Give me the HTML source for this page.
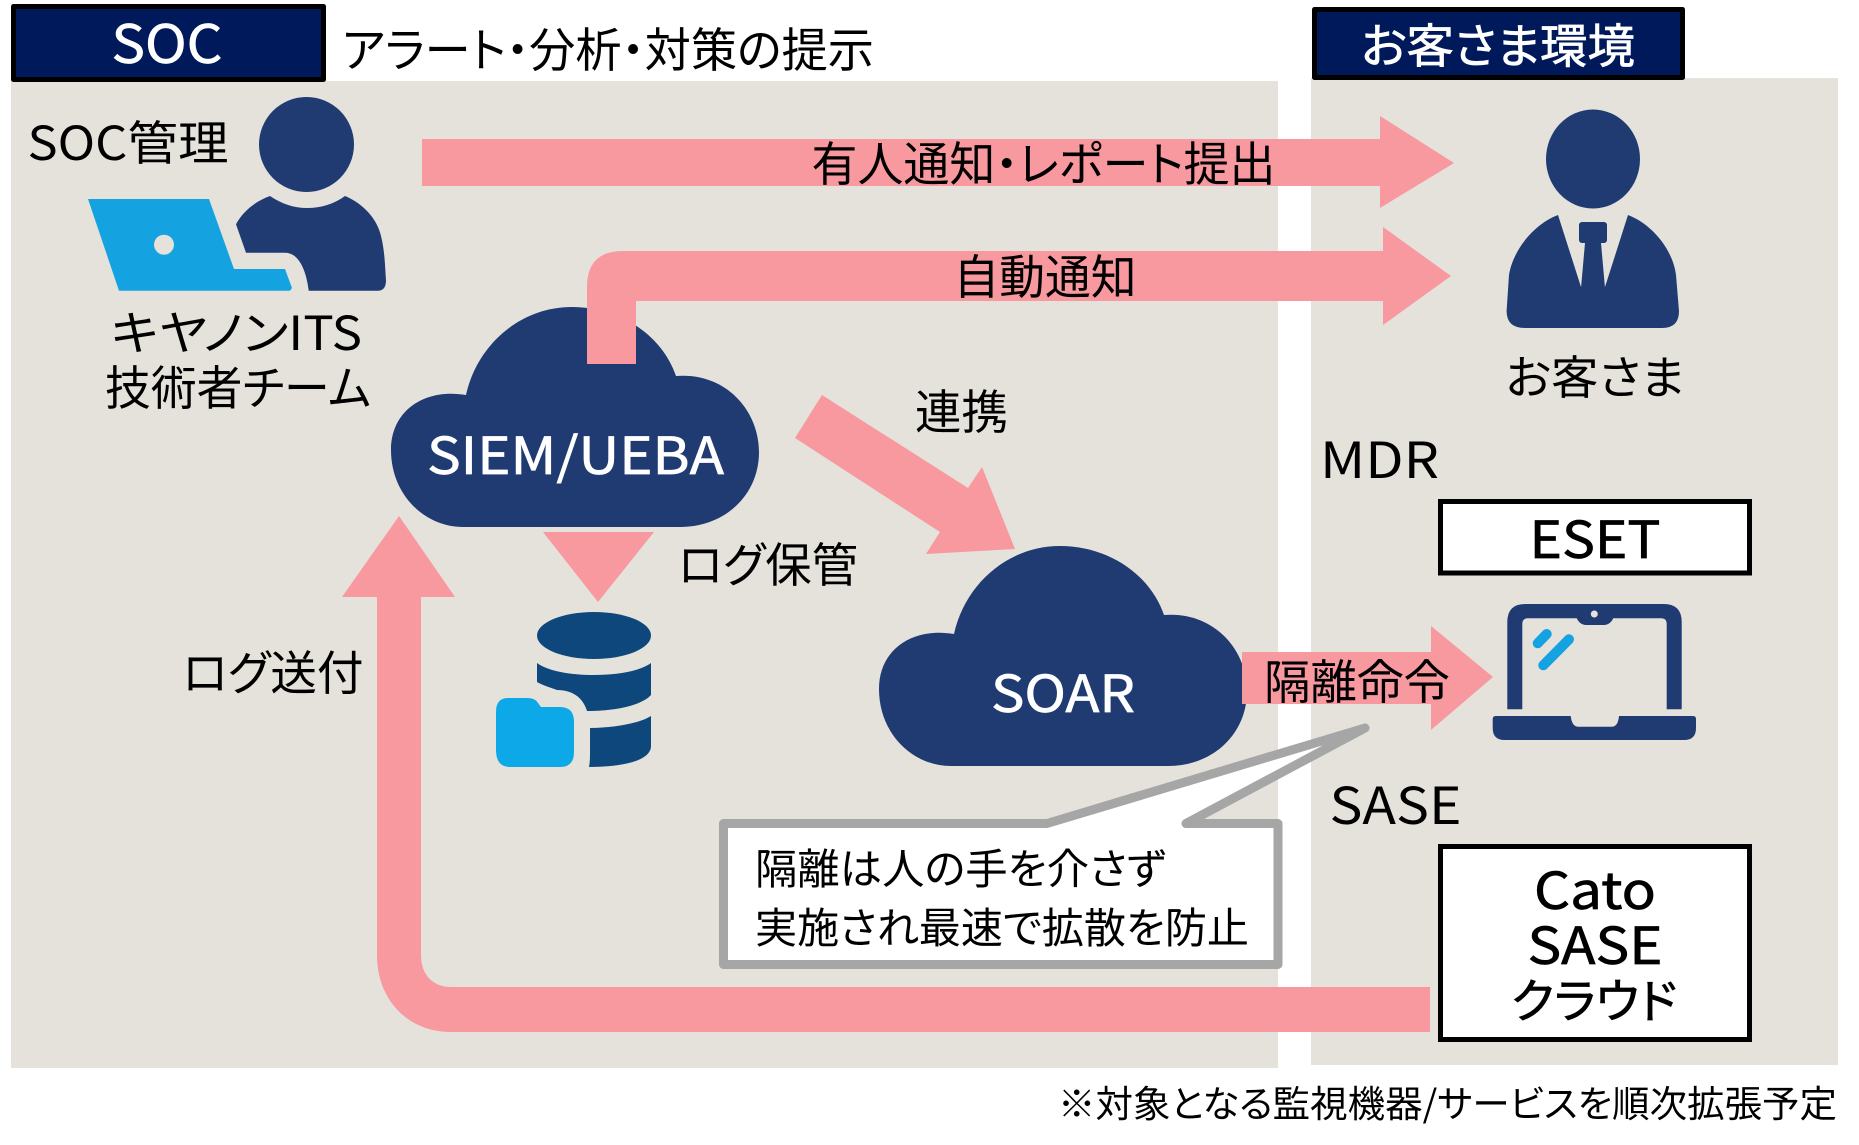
<!DOCTYPE html>
<html lang="ja"><head><meta charset="utf-8"><title>SOC diagram</title>
<style>
html,body{margin:0;padding:0;background:#fff;width:1859px;height:1145px;overflow:hidden}
svg{display:block}
text{font-family:"Noto Sans CJK JP","Liberation Sans",sans-serif;fill:#000;font-feature-settings:"palt"}
.mw{fill:#fff;stroke:#fff;stroke-width:.7px}
.mb{stroke:#000;stroke-width:.7px}
</style></head><body>
<svg width="1859" height="1145" viewBox="0 0 1859 1145" xmlns="http://www.w3.org/2000/svg">
<rect width="1859" height="1145" fill="#fff"/>
<!-- panels -->
<rect x="11" y="81" width="1267" height="987" fill="#E4E2DA"/>
<rect x="1311" y="78" width="527" height="987" fill="#E4E2DA"/>
<!-- headers -->
<rect x="13.500" y="6.500" width="310" height="73" fill="#00195A" stroke="#000" stroke-width="5" stroke-linejoin="round"/>
<rect x="1314.500" y="9.500" width="368" height="68" fill="#00195A" stroke="#000" stroke-width="5" stroke-linejoin="round"/>
<text class="mw" x="111.500" y="63" font-size="53" textLength="111" lengthAdjust="spacingAndGlyphs">SOC</text>
<text class="mw" x="1361" y="63" font-size="47" textLength="274" lengthAdjust="spacingAndGlyphs">お客さま環境</text>
<text x="342" y="67" font-size="47" textLength="532" lengthAdjust="spacingAndGlyphs">アラート・分析・対策の提示</text>

<!-- person SOC -->
<g fill="#203A72">
<ellipse cx="306.500" cy="144.500" rx="47.500" ry="47.500"/>
<path d="M270,196 C282,204 294,208 307,208 C321,208 334,204 345,196 C362,203 377,218 381,236 C385,252 385,268 386,280 Q386,290.700 378,290.700 L308.700,290.700 C307,276 301,252.700 285,252.700 L246,252.700 L236,224.300 C243,211 256,201 270,196 Z"/>
</g>
<path d="M88,199 L209,199 L234,269 L285,269 L292,288 L290,290.700 L119,290.700 Z" fill="#14A3E0"/>
<circle cx="164" cy="244.700" r="10" fill="#E4E2DA"/>

<!-- clouds -->
<g fill="#203A72">
<path d="M466,395 C477,345 520,307 572,307 C620,307 662,335 676,376 C725,372 759,410 759,452 C759,495 725,527 680,527 L463,527 C425,527 391,495 391,450 C391,410 425,388 466,395 Z"/>
<path transform="translate(488,239)" d="M466,395 C477,345 520,307 572,307 C620,307 662,335 676,376 C725,372 759,410 759,452 C759,495 725,527 680,527 L463,527 C425,527 391,495 391,450 C391,410 425,388 466,395 Z"/>
</g>

<!-- arrows -->
<g fill="#F8989F">
<path d="M422,139 L1380,139 L1380,116 L1454,163 L1380,208 L1380,186 L422,186 Z"/>
<path d="M587,364 L587,287 Q587,251 623,251 L1383,251 L1383,227 L1451,276 L1383,325 L1383,301 L636,301 L636,364 Z"/>
<path d="M822,395 L968,488 L982,467 L1015,549 L926,554 L940,532 L795,438 Z"/>
<path d="M543,532 L654,532 L598,602 Z"/>
<path d="M399,516 L455,597 L421,597 L421,955 C421,975 433,987 451,987 L1430,987 L1430,1032 L451,1032 C408,1032 377,1000 377,955 L377,597 L342,597 Z"/>
<path d="M1242,652 L1431,652 L1431,626 L1493,677 L1431,730 L1431,704 L1242,704 Z"/>
</g>

<!-- db -->
<g fill="#0D477B">
<ellipse cx="594" cy="635.500" rx="57" ry="23.500"/>
<path d="M537,663 C548,671 570,675 594,675 C618,675 640,671 651,663 L651,695 C643,704 620,711 587,711 C583,698 573,690 557,690 C552,688 544,686 537,682 Z"/>
<path d="M651,716 C640,723 615,728 590,728 L590,755 Q590,762 589,767 C625,767 651,760 651,746 Z"/>
</g>
<path d="M496,712 Q496,698 508,698 L528,698 Q535,698 538,703 L541,707 L560,707 Q574,707 574,722 L574,752 Q574,767 560,767 L510,767 Q496,767 496,750 Z" fill="#0CA8E8"/>

<!-- customer -->
<g fill="#203A72">
<ellipse cx="1593" cy="159" rx="47" ry="49.500"/>
<path d="M1558,215 L1581,287 L1605,287 L1628,215 C1652,224 1673,250 1676,275 L1679,311 Q1679,328 1662,328 L1525,328 Q1506.600,328 1506.600,311 L1509,275 C1513,250 1534,224 1558,215 Z"/>
<rect x="1579" y="222" width="28" height="21" rx="3"/>
<path d="M1585,243 L1601,243 L1605,288 L1581,288 Z"/>
</g>

<!-- device laptop -->
<path d="M1507.300,709.300 L1507.300,622 Q1507.300,604 1525.300,604 L1663.700,604 Q1681.700,604 1681.700,622 L1681.700,709.300 L1666.700,709.300 L1666.700,624 Q1666.700,618.300 1661,618.300 L1613.300,618.300 Q1610,625 1604,625 L1586,625 Q1580,625 1576.700,618.300 L1528,618.300 Q1522.300,618.300 1522.300,624 L1522.300,709.300 Z" fill="#203A72"/>
<circle cx="1594.300" cy="614" r="3.500" fill="#E4E2DA"/>
<path d="M1495.700,716 L1570.700,716 Q1572,726.700 1578,726.700 L1612,726.700 Q1618,726.700 1619,716 L1693,716 Q1696,716 1696,719 L1696,728 Q1696,740 1684,740 L1504.700,740 Q1492.700,740 1492.700,728 L1492.700,719 Q1492.700,716 1495.700,716 Z" fill="#203A72"/>
<g stroke="#14A3E0" stroke-width="10" stroke-linecap="round" fill="none">
<path d="M1537.700,643.300 L1546.700,634"/>
<path d="M1543.300,665.300 L1569,639.300"/>
</g>

<!-- callout -->
<path d="M723.500,823.500 L1047,823.500 L1365,728 L1186,823.500 L1278,823.500 L1278,964.500 L723.500,964.500 Z" fill="#fff" stroke="#A6A6A6" stroke-width="9" stroke-linejoin="round"/>
<text x="755" y="884" font-size="42" textLength="411" lengthAdjust="spacingAndGlyphs">隔離は人の手を介さず</text>
<text x="755" y="943" font-size="42" textLength="494" lengthAdjust="spacingAndGlyphs">実施され最速で拡散を防止</text>

<!-- boxes -->
<rect x="1440.500" y="501.500" width="309" height="71.500" fill="#fff" stroke="#000" stroke-width="5"/>
<rect x="1440.500" y="846.500" width="309" height="193" fill="#fff" stroke="#000" stroke-width="5"/>
<text class="mb" x="1529.500" y="558" font-size="51" textLength="131" lengthAdjust="spacingAndGlyphs">ESET</text>
<text class="mb" x="1534" y="909" font-size="51" textLength="122" lengthAdjust="spacingAndGlyphs">Cato</text>
<text class="mb" x="1527.500" y="964" font-size="51" textLength="135" lengthAdjust="spacingAndGlyphs">SASE</text>
<text class="mb" x="1511" y="1018" font-size="47" textLength="166" lengthAdjust="spacingAndGlyphs">クラウド</text>

<!-- labels -->
<text x="27.500" y="160" font-size="47" textLength="201" lengthAdjust="spacingAndGlyphs">SOC管理</text>
<text x="111" y="350" font-size="47" textLength="251" lengthAdjust="spacingAndGlyphs">キヤノンITS</text>
<text x="105" y="405" font-size="47" textLength="266" lengthAdjust="spacingAndGlyphs">技術者チーム</text>
<text x="811.500" y="181" font-size="47" textLength="464" lengthAdjust="spacingAndGlyphs">有人通知・レポート提出</text>
<text x="953.500" y="294" font-size="47" textLength="183" lengthAdjust="spacingAndGlyphs">自動通知</text>
<text x="915" y="429" font-size="47" textLength="93" lengthAdjust="spacingAndGlyphs">連携</text>
<text class="mw" x="427" y="474" font-size="51" textLength="297" lengthAdjust="spacingAndGlyphs">SIEM/UEBA</text>
<text x="678" y="582" font-size="47" textLength="180" lengthAdjust="spacingAndGlyphs">ログ保管</text>
<text x="182.500" y="690" font-size="47" textLength="181" lengthAdjust="spacingAndGlyphs">ログ送付</text>
<text class="mw" x="991" y="712" font-size="51" textLength="144" lengthAdjust="spacingAndGlyphs">SOAR</text>
<text x="1264" y="699" font-size="47" textLength="186" lengthAdjust="spacingAndGlyphs">隔離命令</text>
<text x="1505.500" y="394" font-size="46" textLength="179" lengthAdjust="spacingAndGlyphs">お客さま</text>
<text x="1320" y="478" font-size="50" textLength="119" lengthAdjust="spacingAndGlyphs">MDR</text>
<text x="1329.500" y="824" font-size="51" textLength="132" lengthAdjust="spacingAndGlyphs">SASE</text>
<text x="1058" y="1117" font-size="37" textLength="779" lengthAdjust="spacingAndGlyphs">※対象となる監視機器/サービスを順次拡張予定</text>
</svg>
</body></html>
